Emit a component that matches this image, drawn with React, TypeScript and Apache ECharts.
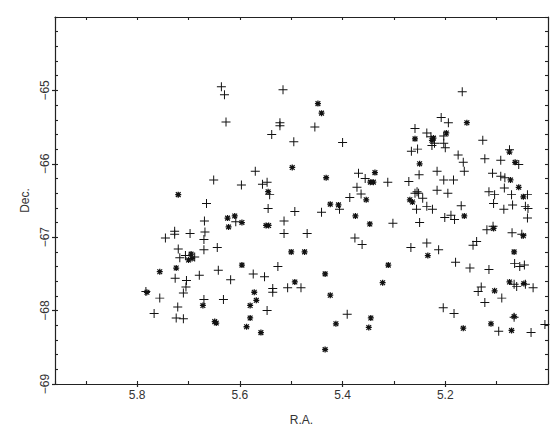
import React, { useEffect, useRef } from "react";
import * as echarts from "echarts";

// R.A. / Dec. of objects drawn as "+"
const crossRA = [
  5.636, 5.630, 5.627, 5.516, 5.522, 5.522, 5.538, 5.495, 5.454, 5.400, 5.167, 5.259, 5.208, 5.194, 5.236,
  5.228, 5.221, 5.226, 5.203, 5.203, 5.200, 5.266, 5.254, 5.175, 5.165, 5.127, 5.251, 5.216, 5.271, 5.203,
  5.184, 5.216, 5.195, 5.259, 5.255, 5.252, 5.244, 5.256, 5.236, 5.225, 5.201, 5.189, 5.182, 5.169, 5.250,
  5.267, 5.236, 5.213, 5.163, 5.123, 5.108, 5.092, 5.075, 5.057, 5.092, 5.084, 5.085, 5.115, 5.104, 5.071,
  5.040, 5.106, 5.069, 5.086, 5.044, 5.039, 5.040, 5.119, 5.107, 5.070, 5.051, 5.139, 5.146, 5.065, 5.055,
  5.046, 5.152, 5.115, 5.130, 5.136, 5.123, 5.090, 5.066, 5.061, 5.044, 5.029, 5.066, 5.096, 5.033, 5.006,
  5.183, 5.204, 5.180, 5.369, 5.356, 5.312, 5.372, 5.364, 5.386, 5.406, 5.441, 5.302, 5.376, 5.362, 5.391,
  5.493, 5.514, 5.514, 5.469, 5.526, 5.507, 5.481, 5.570, 5.547, 5.556, 5.542, 5.545, 5.597, 5.608, 5.651,
  5.665, 5.669, 5.668, 5.670, 5.670, 5.644, 5.642, 5.618, 5.574, 5.552, 5.536, 5.536, 5.547, 5.632, 5.670,
  5.679, 5.783, 5.767, 5.756, 5.745, 5.727, 5.727, 5.720, 5.726, 5.721, 5.724, 5.710, 5.710, 5.705, 5.704,
  5.697, 5.717, 5.706, 5.688,
];
const crossDec = [
  -64.95, -65.06, -65.43, -64.99, -65.44, -65.48, -65.60, -65.70, -65.50, -65.71, -65.02, -65.52, -65.37, -65.44, -65.58,
  -65.63, -65.72, -65.75, -65.62, -65.72, -65.78, -65.83, -65.80, -65.88, -65.98, -65.68, -66.15, -66.10, -66.24, -66.22,
  -66.22, -66.36, -66.40, -66.40, -66.38, -66.40, -66.47, -66.62, -66.58, -66.62, -66.73, -66.70, -66.76, -66.57, -66.80,
  -67.14, -67.08, -67.17, -66.10, -65.93, -66.13, -65.95, -65.81, -66.01, -66.17, -66.19, -66.33, -66.38, -66.42, -66.42,
  -66.42, -66.54, -66.56, -66.62, -66.58, -66.61, -66.74, -66.90, -66.85, -66.94, -66.96, -67.06, -67.11, -67.36, -67.40,
  -67.38, -67.42, -67.44, -67.68, -67.74, -67.89, -67.83, -67.64, -67.67, -67.64, -67.69, -68.09, -68.28, -68.30, -68.19,
  -68.04, -67.96, -67.34, -66.13, -66.20, -66.25, -66.32, -66.41, -66.46, -66.62, -66.66, -66.81, -67.01, -67.10, -68.05,
  -66.65, -66.78, -66.95, -66.95, -67.40, -67.69, -67.69, -66.10, -66.25, -66.28, -66.42, -66.61, -66.29, -66.79, -66.22,
  -66.54, -66.78, -66.93, -67.03, -67.17, -67.14, -67.45, -67.58, -67.50, -67.54, -67.70, -67.75, -68.00, -67.85, -67.85,
  -67.52, -67.74, -68.04, -67.83, -67.01, -66.92, -66.96, -67.16, -67.56, -67.95, -68.10, -68.11, -67.76, -67.68, -67.59,
  -66.95, -67.28, -67.25, -67.27,
];

// R.A. / Dec. of objects drawn as "*"
const starRA = [
  5.448, 5.441, 5.498, 5.432, 5.158, 5.259, 5.223, 5.226, 5.198, 5.250, 5.269, 5.264, 5.163, 5.234, 5.075,
  5.064, 5.073, 5.057, 5.048, 5.106, 5.048, 5.066, 5.104, 5.075, 5.047, 5.071, 5.111, 5.165, 5.066, 5.337,
  5.346, 5.340, 5.354, 5.424, 5.408, 5.375, 5.347, 5.311, 5.322, 5.434, 5.424, 5.434, 5.413, 5.345, 5.349,
  5.500, 5.474, 5.493, 5.545, 5.549, 5.544, 5.610, 5.624, 5.622, 5.596, 5.596, 5.572, 5.568, 5.580, 5.580,
  5.587, 5.559, 5.649, 5.646, 5.672, 5.781, 5.756, 5.720, 5.724, 5.695, 5.700, 5.693,
];
const starDec = [
  -65.18, -65.31, -66.05, -66.19, -65.44, -65.66, -65.65, -65.68, -65.58, -66.00, -66.49, -66.52, -66.71, -67.25, -65.84,
  -65.98, -66.22, -66.32, -66.45, -66.88, -66.98, -67.20, -67.73, -67.61, -67.63, -68.27, -68.18, -68.24, -68.08, -66.12,
  -66.25, -66.25, -66.49, -66.55, -66.56, -66.71, -66.82, -67.38, -67.62, -67.50, -67.79, -68.53, -68.18, -68.10, -68.23,
  -67.20, -67.20, -67.61, -66.38, -66.84, -66.84, -66.71, -66.74, -66.86, -66.80, -67.38, -67.75, -67.86, -67.93, -68.10,
  -68.22, -68.30, -68.15, -68.17, -67.93, -67.75, -67.47, -66.42, -67.42, -67.23, -67.31, -67.29,
];

const raMin = 5.0;
const raMax = 5.96;
const decMin = -69;
const decMax = -64;

const CROSS = "path://M-1,-0.11H1V0.11H-1Z M-0.11,-1H0.11V1H-0.11Z";
const STAR =
  "path://M-0.85,-0.18H0.85V0.18H-0.85Z M-0.18,-0.85H0.18V0.85H-0.18Z " +
  "M-0.55,-0.79L0.79,0.55L0.55,0.79L-0.79,-0.55Z M0.79,-0.55L-0.55,0.79L-0.79,0.55L0.55,-0.79Z";

const FONT = "'Liberation Sans', Arial, sans-serif";
const INK = "#222";

export default function App() {
  const ref = useRef<HTMLDivElement>(null);

  useEffect(() => {
    if (!ref.current) return;
    const chart = echarts.init(ref.current, null, { renderer: "svg", width: 560, height: 440 });
    const gridBox = { left: 55, right: 12, top: 17, bottom: 56 };
    const fmt = (v: number) => v.toFixed(1);
    const decFmt = (v: number) => "\u2212" + Math.abs(v).toFixed(0);

    const hidden = { show: false };
    const option: any = {
      animation: false,
      backgroundColor: "#ffffff",
      grid: [
        { ...gridBox, show: false },
        { ...gridBox, show: false },
      ],
      xAxis: [
        {
          gridIndex: 0,
          type: "value",
          position: "bottom",
          min: raMin,
          max: raMax,
          interval: 0.2,
          inverse: true,
          axisLine: { show: true, lineStyle: { color: INK, width: 1.2 } },
          axisTick: { show: true, inside: false, length: 3, lineStyle: { color: INK, width: 1.2 } },
          axisLabel: {
            show: true,
            formatter: fmt,
            showMinLabel: false,
            showMaxLabel: false,
            margin: 5,
            fontFamily: FONT,
            fontSize: 12,
            color: "#333",
          },
          splitLine: hidden,
          name: "R.A.",
          nameLocation: "middle",
          nameGap: 30,
          nameTextStyle: { fontFamily: FONT, fontSize: 12, color: "#333" },
        },
        {
          gridIndex: 0,
          type: "value",
          position: "top",
          min: raMin,
          max: raMax,
          interval: 0.2,
          inverse: true,
          axisLine: { show: true, lineStyle: { color: INK, width: 1.2 } },
          axisTick: hidden,
          axisLabel: hidden,
          splitLine: hidden,
        },
        {
          gridIndex: 1,
          type: "value",
          position: "bottom",
          min: raMin,
          max: raMax,
          interval: 0.1,
          inverse: true,
          axisLine: hidden,
          axisTick: { show: true, inside: true, length: 3, lineStyle: { color: INK, width: 1.1 } },
          axisLabel: hidden,
          splitLine: hidden,
        },
        {
          gridIndex: 1,
          type: "value",
          position: "top",
          min: raMin,
          max: raMax,
          interval: 0.1,
          inverse: true,
          axisLine: hidden,
          axisTick: { show: true, inside: true, length: 3, lineStyle: { color: INK, width: 1.1 } },
          axisLabel: hidden,
          splitLine: hidden,
        },
      ],
      yAxis: [
        {
          gridIndex: 0,
          type: "value",
          position: "left",
          min: decMin,
          max: decMax,
          interval: 1,
          axisLine: { show: true, lineStyle: { color: INK, width: 1.2 } },
          axisTick: { show: true, inside: false, length: 3, lineStyle: { color: INK, width: 1.2 } },
          axisLabel: {
            show: true,
            rotate: 90,
            formatter: decFmt,
            showMaxLabel: false,
            margin: 4,
            fontFamily: FONT,
            fontSize: 12,
            color: "#333",
          },
          splitLine: hidden,
          name: "Dec.",
          nameLocation: "middle",
          nameRotate: 90,
          nameGap: 19,
          nameTextStyle: { fontFamily: FONT, fontSize: 12, color: "#333" },
        },
        {
          gridIndex: 0,
          type: "value",
          position: "right",
          min: decMin,
          max: decMax,
          interval: 1,
          axisLine: { show: true, lineStyle: { color: INK, width: 1.2 } },
          axisTick: hidden,
          axisLabel: hidden,
          splitLine: hidden,
        },
        {
          gridIndex: 1,
          type: "value",
          position: "left",
          min: decMin,
          max: decMax,
          interval: 0.2,
          axisLine: hidden,
          axisTick: { show: true, inside: true, length: 3, lineStyle: { color: INK, width: 1.1 } },
          axisLabel: hidden,
          splitLine: hidden,
        },
        {
          gridIndex: 1,
          type: "value",
          position: "right",
          min: decMin,
          max: decMax,
          interval: 0.2,
          axisLine: hidden,
          axisTick: { show: true, inside: true, length: 3, lineStyle: { color: INK, width: 1.1 } },
          axisLabel: hidden,
          splitLine: hidden,
        },
      ],
      series: [
        {
          name: "cross",
          type: "scatter",
          xAxisIndex: 0,
          yAxisIndex: 0,
          symbol: CROSS,
          symbolSize: 9,
          itemStyle: { color: "#111", opacity: 1 },
          data: crossRA.map((ra, i) => [ra, crossDec[i]]),
        },
        {
          name: "star",
          type: "scatter",
          xAxisIndex: 0,
          yAxisIndex: 0,
          symbol: STAR,
          symbolSize: 6,
          itemStyle: { color: "#111", opacity: 1 },
          data: starRA.map((ra, i) => [ra, starDec[i]]),
        },
      ],
    };
    chart.setOption(option);
    return () => chart.dispose();
  }, []);

  return (
    <div
      ref={ref}
      style={{ position: "fixed", left: 0, top: 0, width: 560, height: 440, background: "#fff" }}
    />
  );
}
